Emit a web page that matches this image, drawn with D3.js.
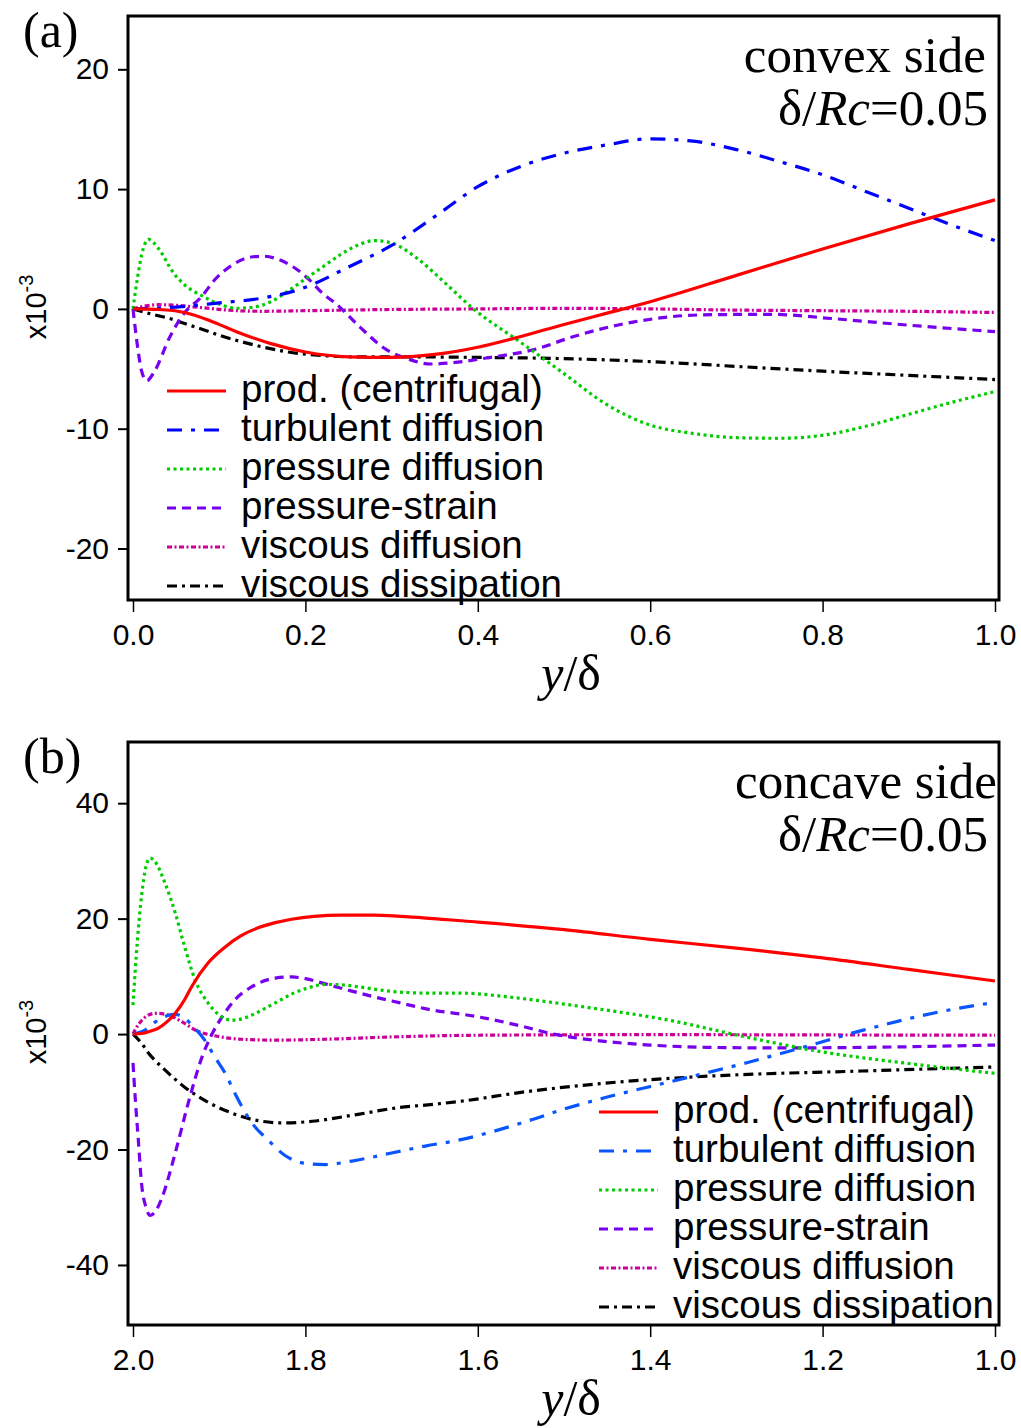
<!DOCTYPE html>
<html>
<head>
<meta charset="utf-8">
<script src="https://cdn.jsdelivr.net/npm/d3@7"></script>
<style>
  html, body { margin: 0; padding: 0; background: #fff; }
  svg { display: block; }
</style>
</head>
<body>
<svg id="fig" width="1021" height="1428"></svg>
<script>
// ---- Panel (a): convex side, x = y/delta from 0 to 1 ----
const convexProd = [[0,0],[0.03,-0.05],[0.06,-0.3],[0.09,-1.0],[0.12,-1.9],[0.16,-2.9],[0.2,-3.6],[0.25,-4.0],[0.3,-4.05],[0.35,-3.8],[0.4,-3.2],[0.45,-2.3],[0.5,-1.3],[0.55,-0.35],[0.6,0.6],[0.7,2.8],[0.8,5.0],[0.9,7.1],[1.0,9.1]];
const convexTurb = [[0,0],[0.05,0.15],[0.1,0.5],[0.15,0.9],[0.2,1.8],[0.25,3.5],[0.3,5.3],[0.35,7.7],[0.4,10.2],[0.45,11.9],[0.5,13.0],[0.55,13.7],[0.6,14.2],[0.65,14.0],[0.7,13.3],[0.75,12.3],[0.8,11.2],[0.85,9.8],[0.9,8.4],[0.95,7.0],[1.0,5.7]];
const convexPDiff = [[0,0],[0.005,2.5],[0.01,4.5],[0.018,5.8],[0.03,5.0],[0.047,3.0],[0.06,2.0],[0.08,1.1],[0.1,0.4],[0.12,0.05],[0.14,0.15],[0.16,0.6],[0.18,1.5],[0.2,2.5],[0.22,3.5],[0.24,4.5],[0.26,5.3],[0.28,5.7],[0.3,5.5],[0.33,4.2],[0.36,2.3],[0.395,0],[0.45,-2.8],[0.5,-5.4],[0.55,-8.0],[0.6,-9.7],[0.65,-10.4],[0.7,-10.75],[0.75,-10.8],[0.8,-10.55],[0.85,-9.8],[0.9,-8.8],[0.95,-7.8],[1.0,-6.9]];
const convexPStrain = [[0,0],[0.005,-3.0],[0.01,-5.2],[0.016,-6.0],[0.025,-5.2],[0.043,-2.3],[0.06,-0.3],[0.078,0.9],[0.097,2.6],[0.116,3.7],[0.135,4.3],[0.151,4.4],[0.17,4.1],[0.186,3.5],[0.205,2.4],[0.22,1.3],[0.236,0.4],[0.263,-1.5],[0.294,-3.4],[0.32,-4.2],[0.345,-4.6],[0.37,-4.5],[0.41,-4.1],[0.47,-3.3],[0.507,-2.4],[0.58,-1.1],[0.66,-0.5],[0.74,-0.45],[0.81,-0.8],[0.89,-1.3],[1.0,-1.9]];
const convexVDiff = [[0,0],[0.015,0.25],[0.03,0.35],[0.05,0.3],[0.08,0.1],[0.11,-0.1],[0.15,-0.2],[0.2,-0.15],[0.3,-0.05],[0.4,0.0],[0.5,0.05],[0.6,0.0],[0.7,-0.1],[0.8,-0.15],[0.9,-0.2],[1.0,-0.3]];
const convexVDiss = [[0,0],[0.02,-0.4],[0.047,-0.9],[0.063,-1.3],[0.08,-1.7],[0.1,-2.2],[0.14,-3.0],[0.18,-3.6],[0.22,-3.9],[0.26,-4.0],[0.3,-4.0],[0.4,-4.05],[0.5,-4.15],[0.6,-4.4],[0.7,-4.8],[0.8,-5.2],[0.9,-5.55],[1.0,-5.9]];

// ---- Panel (b): concave side, x = y/delta from 2 down to 1 ----
const concaveProd = [[2.0,0],[1.99,0.1],[1.98,0.5],[1.971,1.0],[1.96,2.2],[1.951,3.6],[1.94,6.0],[1.932,8.2],[1.913,12.3],[1.893,15.1],[1.875,17.0],[1.855,18.4],[1.835,19.3],[1.816,19.9],[1.79,20.4],[1.758,20.6],[1.72,20.6],[1.69,20.4],[1.6,19.4],[1.5,18.1],[1.4,16.4],[1.3,14.9],[1.2,13.2],[1.1,11.2],[1.0,9.2]];
const concaveTurb = [[2.0,0],[1.986,0.7],[1.974,2.1],[1.96,3.2],[1.951,3.4],[1.94,2.8],[1.932,1.6],[1.917,-1.0],[1.905,-4.0],[1.893,-6.8],[1.882,-10.2],[1.862,-15.4],[1.843,-18.4],[1.824,-21.0],[1.8,-22.4],[1.777,-22.6],[1.746,-22.0],[1.7,-20.6],[1.661,-19.4],[1.623,-18.4],[1.545,-15.2],[1.5,-13.0],[1.452,-11.0],[1.378,-8.3],[1.289,-5.0],[1.223,-2.3],[1.155,0.6],[1.066,3.8],[1.0,5.5]];
const concavePDiff = [[2.0,5.0],[1.995,16],[1.99,24],[1.985,29],[1.98,30.5],[1.975,30],[1.963,26.2],[1.951,21],[1.94,15.1],[1.928,9.4],[1.913,5.4],[1.9,3.3],[1.885,2.4],[1.87,2.8],[1.862,3.3],[1.835,5.4],[1.815,7.0],[1.797,8.0],[1.777,8.6],[1.755,8.5],[1.739,8.2],[1.7,7.4],[1.66,7.1],[1.62,7.1],[1.557,6.3],[1.5,5.2],[1.467,4.5],[1.378,2.4],[1.289,-0.5],[1.2,-3.1],[1.111,-4.9],[1.0,-6.8]];
const concavePStrain = [[2.0,-5],[1.997,-12],[1.994,-18],[1.99,-26],[1.985,-30],[1.98,-31.4],[1.973,-30.5],[1.966,-28.2],[1.951,-20.6],[1.936,-12],[1.92,-4.0],[1.908,0.1],[1.897,2.9],[1.882,5.9],[1.862,8.2],[1.835,9.7],[1.816,9.9],[1.8,9.6],[1.777,8.7],[1.75,7.6],[1.719,6.4],[1.69,5.4],[1.661,4.4],[1.6,3.0],[1.55,1.4],[1.512,0],[1.45,-1.3],[1.4,-1.9],[1.334,-2.3],[1.25,-2.4],[1.15,-2.3],[1.0,-1.9]];
const concaveVDiff = [[2.0,0],[1.993,1.8],[1.986,2.9],[1.974,3.6],[1.959,3.3],[1.943,2.1],[1.925,0.5],[1.905,-0.3],[1.874,-0.9],[1.835,-1.05],[1.777,-0.9],[1.7,-0.5],[1.6,-0.2],[1.4,-0.1],[1.2,-0.15],[1.0,-0.2]];
const concaveVDiss = [[2.0,0],[1.99,-1.6],[1.983,-3.1],[1.963,-6.2],[1.94,-9.2],[1.913,-11.8],[1.885,-13.7],[1.855,-15.0],[1.824,-15.4],[1.792,-15.1],[1.739,-13.9],[1.69,-12.7],[1.661,-12.3],[1.623,-11.7],[1.545,-10.0],[1.452,-8.5],[1.334,-7.3],[1.155,-6.4],[1.0,-5.7]];

const seriesNames = ["prod. (centrifugal)", "turbulent diffusion", "pressure diffusion", "pressure-strain", "viscous diffusion", "viscous dissipation"];
const xTicksA = [0, 0.2, 0.4, 0.6, 0.8, 1.0];
const xTicksB = [2.0, 1.8, 1.6, 1.4, 1.2, 1.0];
const yTicksA = [-20, -10, 0, 10, 20];
const yTicksB = [-40, -20, 0, 20, 40];

// line styles per series (colour / dash)
const stylesA = [
  {color: "#ff0000", dash: null},
  {color: "#0000ff", dash: "15,9,4,9"},
  {color: "#00cc00", dash: "3,3.5"},
  {color: "#7700ee", dash: "9,6"},
  {color: "#cc0099", dash: "5,2.5,2,2.5"},
  {color: "#000000", dash: "10,5,3,5"}
];
const stylesB = [
  {color: "#ff0000", dash: null},
  {color: "#0a55ff", dash: "15,9,4,9"},
  {color: "#00cc00", dash: "3,3.5"},
  {color: "#7700ee", dash: "9,6"},
  {color: "#cc0099", dash: "5,2.5,2,2.5"},
  {color: "#000000", dash: "10,5,3,5"}
];

const svg = d3.select("#fig");
const SANS = "'Liberation Sans', Arial, Helvetica, sans-serif";
const SERIF = "'Liberation Serif', 'Times New Roman', serif";

function drawPanel(cfg) {
  const g = svg.append("g");
  const x = d3.scaleLinear().domain(cfg.xDomain).range([133, 995]);
  const y = d3.scaleLinear().domain(cfg.yDomain).range([cfg.bottom, cfg.top]);
  const frameL = 128, frameR = 999;

  const clipId = "clip-" + cfg.id;
  svg.append("clipPath").attr("id", clipId)
    .append("rect").attr("x", frameL).attr("y", cfg.top)
    .attr("width", frameR - frameL).attr("height", cfg.bottom - cfg.top);

  // y axis ticks + labels (plain hyphen for negatives)
  const yAxis = d3.axisLeft(y).tickValues(cfg.yTicks).tickSize(10).tickPadding(9).tickFormat(d => String(d));
  const gy = g.append("g").attr("transform", `translate(${frameL},0)`).call(yAxis);
  gy.select(".domain").remove();
  gy.selectAll(".tick line").attr("stroke", "#000").attr("stroke-width", 2);
  gy.selectAll(".tick text").attr("font-family", SANS).attr("font-size", 30).attr("fill", "#000");

  // x axis ticks + labels
  const xAxis = d3.axisBottom(x).tickValues(cfg.xTicks).tickSize(12).tickPadding(12).tickFormat(d3.format(".1f"));
  const gx = g.append("g").attr("transform", `translate(0,${cfg.bottom})`).call(xAxis);
  gx.select(".domain").remove();
  gx.selectAll(".tick line").attr("stroke", "#000").attr("stroke-width", 1.5);
  gx.selectAll(".tick text").attr("font-family", SANS).attr("font-size", 30).attr("fill", "#000");

  // curves
  const line = d3.line().x(d => x(d[0])).y(d => y(d[1])).curve(d3.curveMonotoneX);
  const curves = g.append("g").attr("clip-path", `url(#${clipId})`);
  // draw in reverse so production sits on top
  cfg.series.map((s, i) => ({s, i})).reverse().forEach(({s, i}) => {
    const st = cfg.styles[i];
    curves.append("path").datum(s)
      .attr("d", line)
      .attr("fill", "none")
      .attr("stroke", st.color)
      .attr("stroke-width", 3.2)
      .attr("stroke-dasharray", st.dash)
      .attr("stroke-linejoin", "round");
  });

  // frame
  g.append("rect").attr("x", frameL).attr("y", cfg.top)
    .attr("width", frameR - frameL).attr("height", cfg.bottom - cfg.top)
    .attr("fill", "none").attr("stroke", "#000").attr("stroke-width", 3);

  // legend
  const lg = g.append("g");
  seriesNames.forEach((name, i) => {
    const st = cfg.styles[i];
    const ly = cfg.legendY + i * 39;
    lg.append("line").attr("x1", cfg.legendX).attr("x2", cfg.legendX + 59)
      .attr("y1", ly).attr("y2", ly)
      .attr("stroke", st.color).attr("stroke-width", 3.2)
      .attr("stroke-dasharray", st.dash);
    lg.append("text").attr("x", cfg.legendX + 74).attr("y", ly + 11)
      .attr("font-family", SANS).attr("font-size", 38.5).attr("fill", "#000")
      .text(name);
  });

  // panel letter
  g.append("text").attr("x", 23).attr("y", cfg.top + 31)
    .attr("font-family", SERIF).attr("font-size", 50).attr("fill", "#000")
    .text(cfg.letter);

  // side / curvature annotation
  g.append("text").attr("x", cfg.sideX).attr("y", cfg.top + 56)
    .attr("text-anchor", "end").attr("font-family", SERIF).attr("font-size", 51).attr("fill", "#000")
    .text(cfg.side);
  const ratio = g.append("text").attr("x", 988).attr("y", cfg.top + 109)
    .attr("text-anchor", "end").attr("font-family", SERIF).attr("font-size", 51).attr("fill", "#000");
  ratio.append("tspan").text("δ/");
  ratio.append("tspan").attr("font-style", "italic").text("Rc");
  ratio.append("tspan").text("=0.05");

  // y-axis scale factor label
  const yl = g.append("text")
    .attr("transform", `translate(46,${y(0) - 2}) rotate(-90)`)
    .attr("text-anchor", "middle").attr("font-family", SANS).attr("font-size", 29).attr("fill", "#000");
  yl.append("tspan").text("x10");
  yl.append("tspan").attr("font-size", 20).attr("dy", -13).text("-3");

  // x-axis title
  const xt = g.append("text").attr("x", 571).attr("y", cfg.bottom + 90)
    .attr("text-anchor", "middle").attr("font-family", SERIF).attr("font-size", 50).attr("fill", "#000");
  xt.append("tspan").attr("font-style", "italic").text("y");
  xt.append("tspan").text("/δ");
}

drawPanel({
  id: "a", letter: "(a)", side: "convex side", sideX: 986,
  top: 16, bottom: 600,
  xDomain: [0, 1], yDomain: [-24.3, 24.45],
  xTicks: xTicksA, yTicks: yTicksA,
  series: [convexProd, convexTurb, convexPDiff, convexPStrain, convexVDiff, convexVDiss],
  styles: stylesA, legendX: 167, legendY: 391
});

drawPanel({
  id: "b", letter: "(b)", side: "concave side", sideX: 997,
  top: 742, bottom: 1325,
  xDomain: [2, 1], yDomain: [-50.4, 50.6],
  xTicks: xTicksB, yTicks: yTicksB,
  series: [concaveProd, concaveTurb, concavePDiff, concavePStrain, concaveVDiff, concaveVDiss],
  styles: stylesB, legendX: 599, legendY: 1112
});
</script>
</body>
</html>
